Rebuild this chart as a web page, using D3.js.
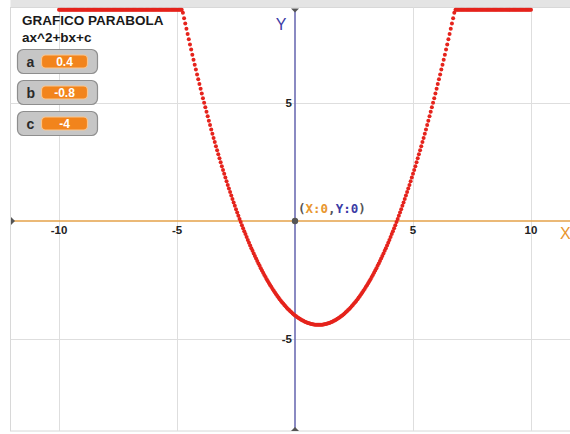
<!DOCTYPE html>
<html>
<head>
<meta charset="utf-8">
<script src="https://cdn.jsdelivr.net/npm/d3@7"></script>
<style>
  html, body { margin: 0; padding: 0; background: #fff; }
  svg { display: block; }
</style>
</head>
<body>
<svg id="chart" width="570" height="434"></svg>
<script>
// Coefficients of y = a·x² + b·x + c, shown in the slider monitors
const coefNames = ["a", "b", "c"];
const coefValues = [0.4, -0.8, -4];

// Gridline / tick values
const xTicks = [-10, -5, 5, 10];
const yTicks = [5, -5];

// Plotted x interval, pen step and stage limits (in graph units)
const xRange = [-10, 10];
const penStep = 0.05;
const stageLimit = 8.95;

const svg = d3.select("#chart");
const W = 570, H = 434;

// 1 unit = 23.6 px, origin at (295, 221)
const x = d3.scaleLinear().domain([-10, 10]).range([59, 531]);
const y = d3.scaleLinear().domain([-5, 5]).range([339, 103]);

const stageLeft = 10.5, stageTop = 7.5, stageBottom = 431;

// Window strip at the top
svg.append("rect").attr("x", stageLeft).attr("y", 0).attr("width", W - stageLeft).attr("height", stageTop)
  .attr("fill", "#e4e4e4");
// Stage
svg.append("rect").attr("x", stageLeft).attr("y", stageTop).attr("width", W - stageLeft + 2)
  .attr("height", stageBottom - stageTop).attr("fill", "#fff")
  .attr("stroke", "#d8d8d8").attr("stroke-width", 1);

// Gridlines
const grid = svg.append("g").attr("stroke", "#dedede").attr("stroke-width", 1);
grid.selectAll("line.v").data(xTicks).join("line")
  .attr("x1", d => Math.round(x(d)) + 0.5).attr("x2", d => Math.round(x(d)) + 0.5)
  .attr("y1", stageTop).attr("y2", stageBottom);
grid.selectAll("line.h").data(yTicks).join("line")
  .attr("y1", d => Math.round(y(d)) + 0.5).attr("y2", d => Math.round(y(d)) + 0.5)
  .attr("x1", stageLeft).attr("x2", W);

// Axes
svg.append("line").attr("x1", stageLeft + 1).attr("x2", W).attr("y1", y(0)).attr("y2", y(0))
  .attr("stroke", "#e5a24a").attr("stroke-width", 1.6);
svg.append("line").attr("x1", x(0)).attr("x2", x(0)).attr("y1", stageTop + 2).attr("y2", stageBottom)
  .attr("stroke", "#6d6db3").attr("stroke-width", 1.6);

// Axis end markers
svg.append("path").attr("d", `M${stageLeft + 0.5},${y(0) - 4} L${stageLeft + 4.5},${y(0)} L${stageLeft + 0.5},${y(0) + 4} Z`)
  .attr("fill", "#555");
svg.append("path").attr("d", `M${x(0) - 4},${stageTop + 1} L${x(0) + 4},${stageTop + 1} L${x(0)},${stageTop + 5} Z`)
  .attr("fill", "#555");
svg.append("path").attr("d", `M${x(0) - 4},${stageBottom} L${x(0) + 4},${stageBottom} L${x(0)},${stageBottom - 4} Z`)
  .attr("fill", "#555");

// Tick labels
const tickFont = "'Liberation Sans', Arial, sans-serif";
svg.selectAll("text.xt").data(xTicks).join("text")
  .attr("x", d => x(d)).attr("y", y(0) + 12.5)
  .attr("text-anchor", "middle")
  .attr("font-family", tickFont).attr("font-weight", "bold").attr("font-size", 11.5)
  .attr("fill", "#222").text(d => d);
svg.selectAll("text.yt").data(yTicks).join("text")
  .attr("x", x(0) - 3).attr("y", d => y(d) + 4)
  .attr("text-anchor", "end")
  .attr("font-family", tickFont).attr("font-weight", "bold").attr("font-size", 11.5)
  .attr("fill", "#222").text(d => d);

// Axis names
svg.append("text").attr("x", 560).attr("y", 239)
  .attr("font-family", tickFont).attr("font-size", 16).attr("fill", "#e8962e").text("X");
svg.append("text").attr("x", 281).attr("y", 30).attr("text-anchor", "middle")
  .attr("font-family", tickFont).attr("font-size", 16).attr("fill", "#3b3ba5").text("Y");

// Parabola drawn by the pen, clamped to the stage
const [a, b, c] = coefValues;
const xs = d3.range(xRange[0], xRange[1] + penStep / 2, penStep);
const pts = xs.map(xv => {
  const yv = a * xv * xv + b * xv + c;
  return [xv, Math.max(-stageLimit, Math.min(stageLimit, yv))];
});
svg.append("g").selectAll("circle").data(pts).join("circle")
  .attr("cx", d => x(d[0])).attr("cy", d => y(d[1])).attr("r", 2)
  .attr("fill", "#e5231c");

// Origin marker and label
svg.append("circle").attr("cx", x(0)).attr("cy", y(0)).attr("r", 3.2).attr("fill", "#555");
const lab = svg.append("text").attr("x", 298).attr("y", 213)
  .attr("font-family", "'DejaVu Sans Mono', monospace").attr("font-weight", "bold").attr("font-size", 12.5);
lab.append("tspan").attr("fill", "#555").text("(");
lab.append("tspan").attr("fill", "#e8962e").text("X:0");
lab.append("tspan").attr("fill", "#555").text(",");
lab.append("tspan").attr("fill", "#3b3ba5").text("Y:0");
lab.append("tspan").attr("fill", "#555").text(")");

// Title
svg.append("text").attr("x", 22).attr("y", 25)
  .attr("font-family", tickFont).attr("font-weight", "bold").attr("font-size", 13.5)
  .attr("fill", "#1a1a1a").text("GRAFICO PARABOLA");
svg.append("text").attr("x", 22).attr("y", 41.5)
  .attr("font-family", tickFont).attr("font-weight", "bold").attr("font-size", 13.5)
  .attr("fill", "#1a1a1a").text("ax^2+bx+c");

// Slider monitors for a, b, c
const monTop = [49, 80, 111];
const mon = svg.append("g").selectAll("g").data(coefNames.map((n, i) => ({ n, v: coefValues[i], t: monTop[i] })))
  .join("g").attr("transform", d => `translate(17.5,${d.t + 0.5})`);
mon.append("rect").attr("width", 80).attr("height", 24).attr("rx", 6)
  .attr("fill", "#c6c6c6").attr("stroke", "#8e8e8e").attr("stroke-width", 1.2);
mon.append("text").attr("x", 9).attr("y", 17)
  .attr("font-family", tickFont).attr("font-weight", "bold").attr("font-size", 14)
  .attr("fill", "#2a2a2a").text(d => d.n);
mon.append("rect").attr("x", 24).attr("y", 5.5).attr("width", 46).attr("height", 13).attr("rx", 4)
  .attr("fill", "#f2841c").attr("stroke", "#f8c58f").attr("stroke-width", 1.2);
mon.append("text").attr("x", 47).attr("y", 16.3)
  .attr("text-anchor", "middle")
  .attr("font-family", tickFont).attr("font-weight", "bold").attr("font-size", 12)
  .attr("fill", "#fff").text(d => d.v);
</script>
</body>
</html>
